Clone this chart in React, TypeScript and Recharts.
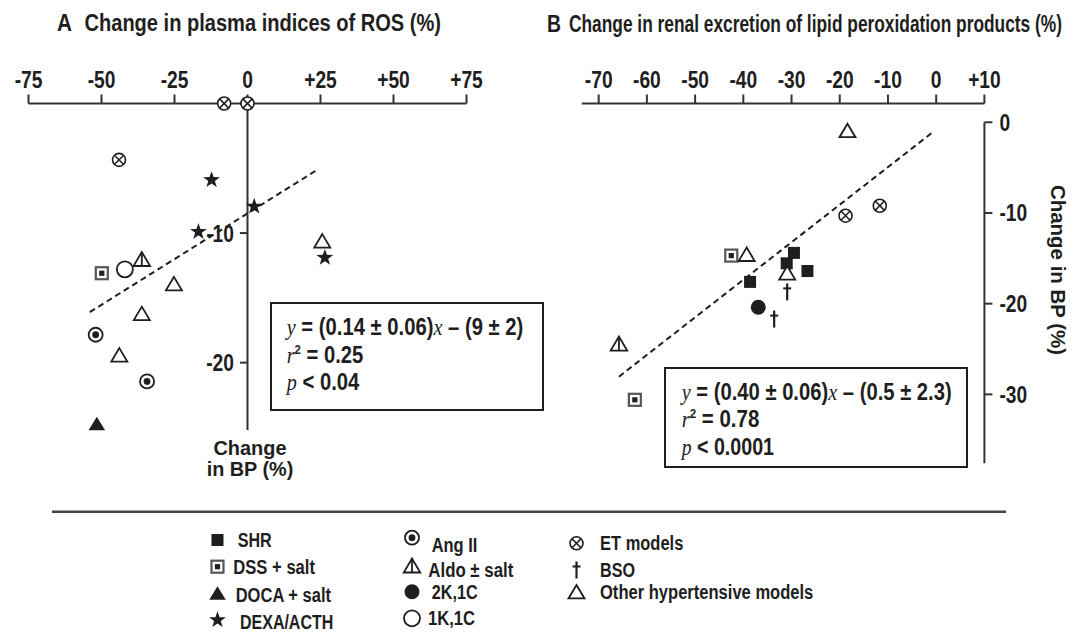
import React from 'react';
import { ScatterChart, Scatter, XAxis, YAxis, ReferenceLine } from 'recharts';

const FONT = "'Liberation Sans',Arial,Helvetica,sans-serif";
const SERIF = "'Liberation Serif','Times New Roman',serif";
const INK = '#1e1e1e';
const LINE = '#333333';
const SQUEEZE = 0.8;

// ---------- Panel A : plasma indices of ROS vs change in BP ----------
const aTicksX = [-75, -50, -25, 0, 25, 50, 75];
const aTicksY = [-10, -20];
const aET = [{ x: -44, y: -4.35 }, { x: -8, y: 0 }, { x: 0, y: 0 }];
const aDEXA = [{ x: -12.3, y: -5.9 }, { x: 2.3, y: -7.95 }, { x: -16.8, y: -9.9 }, { x: 26.5, y: -11.9 }];
const aOther = [{ x: 25.6, y: -10.6 }, { x: -25.2, y: -13.9 }, { x: -36.2, y: -16.2 }, { x: -43.9, y: -19.4 }];
const aDSS = [{ x: -49.9, y: -13.1 }];
const aK1 = [{ x: -42, y: -12.8 }];
const aAldo = [{ x: -36.2, y: -12.0 }];
const aAng = [{ x: -52, y: -17.85 }, { x: -34.4, y: -21.45 }];
const aDOCA = [{ x: -51.6, y: -24.7 }];
const aFit = [{ x: -54, y: -16.1 }, { x: 24, y: -5.1 }];

// ---------- Panel B : renal lipid peroxidation vs change in BP ----------
const bTicksX = [-70, -60, -50, -40, -30, -20, -10, 0, 10];
const bTicksY = [0, -10, -20, -30];
const bOther = [{ x: -18.4, y: -0.9 }, { x: -39.3, y: -14.55 }, { x: -30.9, y: -16.6 }];
const bET = [{ x: -18.8, y: -10.3 }, { x: -11.7, y: -9.2 }];
const bDSS = [{ x: -42.5, y: -14.7 }, { x: -62.5, y: -30.6 }];
const bSHR = [{ x: -29.5, y: -14.4 }, { x: -31.0, y: -15.55 }, { x: -26.7, y: -16.4 }, { x: -38.6, y: -17.6 }];
const bK2 = [{ x: -36.9, y: -20.4 }];
const bBSO = [{ x: -30.9, y: -18.7 }, { x: -33.6, y: -21.7 }];
const bAldo = [{ x: -65.8, y: -24.4 }];
const bFit = [{ x: -65.8, y: -28.05 }, { x: -0.6, y: -1.05 }];

const legendCol1 = [
  { kind: 'shr', label: 'SHR' },
  { kind: 'dss', label: 'DSS + salt' },
  { kind: 'doca', label: 'DOCA + salt' },
  { kind: 'star', label: 'DEXA/ACTH' },
];
const legendCol2 = [
  { kind: 'ang', label: 'Ang II' },
  { kind: 'aldo', label: 'Aldo ± salt' },
  { kind: 'k2', label: '2K,1C' },
  { kind: 'k1', label: '1K,1C' },
];
const legendCol3 = [
  { kind: 'et', label: 'ET models' },
  { kind: 'bso', label: 'BSO' },
  { kind: 'other', label: 'Other hypertensive models' },
];

function starPath(cx: number, cy: number, R: number, r: number) {
  let d = '';
  for (let i = 0; i < 10; i++) {
    const ang = -Math.PI / 2 + (i * Math.PI) / 5;
    const rad = i % 2 === 0 ? R : r;
    d += (i ? 'L' : 'M') + (cx + rad * Math.cos(ang)).toFixed(2) + ',' + (cy + rad * Math.sin(ang)).toFixed(2);
  }
  return d + 'Z';
}

function tri(cx: number, cy: number, w: number, h: number) {
  return `${cx},${cy - h / 2} ${cx + w / 2},${cy + h / 2} ${cx - w / 2},${cy + h / 2}`;
}

function Marker({ kind, cx, cy }: { kind: string; cx: number; cy: number }) {
  if (cx == null || cy == null) return null;
  switch (kind) {
    case 'shr':
      return <rect x={cx - 6} y={cy - 6} width={12} height={12} fill={INK} />;
    case 'dss':
      return (
        <g>
          <rect x={cx - 6} y={cy - 6} width={12} height={12} fill="#fff" stroke="#555" strokeWidth={2.2} />
          <rect x={cx - 2.6} y={cy - 2.6} width={5.2} height={5.2} fill={INK} />
        </g>
      );
    case 'doca':
      return <polygon points={tri(cx, cy, 16.5, 13.5)} fill={INK} />;
    case 'star':
      return <path d={starPath(cx, cy, 8.8, 3.5)} fill={INK} />;
    case 'ang':
      return (
        <g>
          <circle cx={cx} cy={cy} r={7} fill="#fff" stroke={INK} strokeWidth={1.8} />
          <circle cx={cx} cy={cy} r={3.4} fill={INK} />
        </g>
      );
    case 'aldo':
      return (
        <g>
          <polygon points={tri(cx, cy, 16.5, 14)} fill="#fff" stroke={INK} strokeWidth={1.8} />
          <line x1={cx} y1={cy - 7} x2={cx} y2={cy + 7} stroke={INK} strokeWidth={1.8} />
        </g>
      );
    case 'k2':
      return <circle cx={cx} cy={cy} r={7.5} fill={INK} />;
    case 'k1':
      return <circle cx={cx} cy={cy} r={8} fill="#fff" stroke={INK} strokeWidth={1.8} />;
    case 'et':
      return (
        <g>
          <circle cx={cx} cy={cy} r={6.5} fill="#fff" stroke={INK} strokeWidth={1.6} />
          <line x1={cx - 4.4} y1={cy - 4.4} x2={cx + 4.4} y2={cy + 4.4} stroke={INK} strokeWidth={1.5} />
          <line x1={cx - 4.4} y1={cy + 4.4} x2={cx + 4.4} y2={cy - 4.4} stroke={INK} strokeWidth={1.5} />
        </g>
      );
    case 'bso':
      return (
        <g>
          <line x1={cx} y1={cy - 8.5} x2={cx} y2={cy + 8.5} stroke={INK} strokeWidth={2.2} />
          <line x1={cx - 4} y1={cy - 3.5} x2={cx + 4} y2={cy - 3.5} stroke={INK} strokeWidth={2} />
        </g>
      );
    case 'other':
    default:
      return <polygon points={tri(cx, cy, 16, 13.5)} fill="#fff" stroke={INK} strokeWidth={1.8} />;
  }
}

const shapeOf = (kind: string) => (p: any) => <Marker kind={kind} cx={p.cx} cy={p.cy} />;

const fmtX = (v: number) => (v > 0 ? `+${v}` : `${v}`);

// condensed bold text used for axis tick labels
function Narrow({ x, y, anchor, dy, size, children }: any) {
  return (
    <text
      transform={`translate(${x},${y}) scale(${SQUEEZE},1)`}
      textAnchor={anchor}
      dy={dy}
      fill={INK}
      fontFamily={FONT}
      fontWeight={700}
      fontSize={size}
    >
      {children}
    </text>
  );
}

const dyFor = (va: string) => (va === 'start' ? '0.71em' : va === 'middle' ? '0.355em' : 0);

const xTick = (p: any) => (
  <Narrow x={p.x} y={p.y} anchor={p.textAnchor} dy={dyFor(p.verticalAnchor)} size={24}>
    {fmtX(p.payload.value)}
  </Narrow>
);
const yTick = (p: any) => (
  <Narrow x={p.x} y={p.y} anchor={p.textAnchor} dy={dyFor(p.verticalAnchor)} size={24}>
    {`${p.payload.value}`}
  </Narrow>
);

function T(props: any) {
  const { children, ...rest } = props;
  return (
    <text fill={INK} fontFamily={FONT} fontWeight={700} lengthAdjust="spacingAndGlyphs" {...rest}>
      {children}
    </text>
  );
}

function Legend() {
  const col = (items: any[], mx: number, lx: number[], my: number[], by: number[], widths: number[]) =>
    items.map((it, i) => (
      <g key={it.label}>
        <Marker kind={it.kind} cx={mx} cy={my[i]} />
        <T x={lx[i]} y={by[i]} fontSize={19.5} textLength={widths[i]}>
          {it.label}
        </T>
      </g>
    ));
  return (
    <g>
      <line x1={52} y1={511.7} x2={1006} y2={511.7} stroke="#444" strokeWidth={2.6} />
      {col(legendCol1, 217.5, [237.7, 233.3, 235.7, 240], [540, 566.7, 593, 620], [547, 574, 602, 629], [34, 81.7, 95.3, 93.3])}
      {col(legendCol2, 412, [431.7, 428.3, 431.7, 428], [537.7, 565.5, 591.7, 618.3], [551.5, 576.5, 598.5, 625], [45.7, 85, 46, 47])}
      {col(legendCol3, 576.5, [600, 600, 600], [543.3, 570, 591.7], [550, 576.5, 599], [83.3, 35, 213.3])}
    </g>
  );
}

function Overlay() {
  return (
    <svg width={1073} height={635} style={{ position: 'absolute', left: 0, top: 0, pointerEvents: 'none' }}>
      {/* titles */}
      <T x={57} y={31} fontSize={23.5} textLength={15}>A</T>
      <T x={84.5} y={31} fontSize={23.5} textLength={356.5}>Change in plasma indices of ROS (%)</T>
      <T x={547} y={32} fontSize={23.5} textLength={14}>B</T>
      <T x={569} y={32} fontSize={23.5} textLength={493}>Change in renal excretion of lipid peroxidation products (%)</T>

      {/* panel A y label */}
      <T x={250} y={455} fontSize={19.5} textAnchor="middle" textLength={73}>Change</T>
      <T x={250} y={475.5} fontSize={19.5} textAnchor="middle" textLength={86.7}>in BP (%)</T>

      {/* panel B y label */}
      <T x={1051} y={270} fontSize={21} textAnchor="middle" transform="rotate(90 1051 270)" textLength={170}>
        Change in BP (%)
      </T>

      {/* Box A */}
      <rect x={271} y={303} width={272} height={107} fill="none" stroke={INK} strokeWidth={2} />
      <T x={286.7} y={335} fontSize={23} textLength={236.6}>
        <tspan fontFamily={SERIF} fontStyle="italic" fontWeight={400}>y</tspan>
        <tspan> = (0.14 ± 0.06)</tspan>
        <tspan fontFamily={SERIF} fontStyle="italic" fontWeight={400}>x</tspan>
        <tspan> – (9 ± 2)</tspan>
      </T>
      <T x={286.7} y={363} fontSize={23} textLength={76.6}>
        <tspan fontFamily={SERIF} fontStyle="italic" fontWeight={400}>r</tspan>
        <tspan fontSize={13} dy={-9}>2</tspan>
        <tspan dy={9}> = 0.25</tspan>
      </T>
      <T x={286.7} y={390} fontSize={23} textLength={72.6}>
        <tspan fontFamily={SERIF} fontStyle="italic" fontWeight={400}>p</tspan>
        <tspan> &lt; 0.04</tspan>
      </T>

      {/* Box B */}
      <rect x={665} y={368} width={302} height={99} fill="none" stroke={INK} strokeWidth={2} />
      <T x={681.7} y={400} fontSize={23} textLength={270}>
        <tspan fontFamily={SERIF} fontStyle="italic" fontWeight={400}>y</tspan>
        <tspan> = (0.40 ± 0.06)</tspan>
        <tspan fontFamily={SERIF} fontStyle="italic" fontWeight={400}>x</tspan>
        <tspan> – (0.5 ± 2.3)</tspan>
      </T>
      <T x={681.7} y={427} fontSize={23} textLength={77.6}>
        <tspan fontFamily={SERIF} fontStyle="italic" fontWeight={400}>r</tspan>
        <tspan fontSize={13} dy={-9}>2</tspan>
        <tspan dy={9}> = 0.78</tspan>
      </T>
      <T x={681.7} y={455} fontSize={23} textLength={92.3}>
        <tspan fontFamily={SERIF} fontStyle="italic" fontWeight={400}>p</tspan>
        <tspan> &lt; 0.0001</tspan>
      </T>

      <Legend />
    </svg>
  );
}

const axisStroke = { stroke: LINE, strokeWidth: 2 };

const yTickLabelA = (t: number) => (p: any) => {
  const vb = p.viewBox || {};
  return (
    <Narrow x={(vb.x ?? 0) - 6} y={vb.y ?? 0} anchor="end" dy="0.355em" size={24}>
      {`${t}`}
    </Narrow>
  );
};

export default function App() {
  return (
    <div style={{ position: 'absolute', left: 0, top: 0, width: 1073, height: 635, background: '#fff', overflow: 'hidden' }}>
      <div style={{ position: 'absolute', left: 0, top: 0 }}>
        <ScatterChart width={540} height={635} margin={{ top: 73.5, left: 28.5, right: 73.5, bottom: 205 }}>
          <XAxis
            orientation="top"
            height={30}
            type="number"
            dataKey="x"
            domain={[-75, 75]}
            ticks={aTicksX}
            axisLine={axisStroke}
            tickLine={axisStroke}
            tickSize={9}
            tickMargin={7}
            tick={xTick}
            interval={0}
          />
          <YAxis hide type="number" dataKey="y" domain={[-25.2, 0]} />
          <ReferenceLine segment={[{ x: 0, y: 0 }, { x: 0, y: -25.2 }]} stroke={LINE} strokeWidth={2} />
          {aTicksY.map((t) => (
            <ReferenceLine
              key={t}
              segment={[{ x: -2.6, y: t }, { x: 0, y: t }]}
              stroke={LINE}
              strokeWidth={2}
              label={yTickLabelA(t)}
            />
          ))}
          <ReferenceLine segment={aFit} stroke={INK} strokeWidth={2} strokeDasharray="6 4" />
          <Scatter data={aET} shape={shapeOf('et')} isAnimationActive={false} />
          <Scatter data={aOther} shape={shapeOf('other')} isAnimationActive={false} />
          <Scatter data={aDEXA} shape={shapeOf('star')} isAnimationActive={false} />
          <Scatter data={aDSS} shape={shapeOf('dss')} isAnimationActive={false} />
          <Scatter data={aK1} shape={shapeOf('k1')} isAnimationActive={false} />
          <Scatter data={aAldo} shape={shapeOf('aldo')} isAnimationActive={false} />
          <Scatter data={aAng} shape={shapeOf('ang')} isAnimationActive={false} />
          <Scatter data={aDOCA} shape={shapeOf('doca')} isAnimationActive={false} />
        </ScatterChart>
      </div>
      <div style={{ position: 'absolute', left: 540, top: 0 }}>
        <ScatterChart width={533} height={635} margin={{ top: 73.5, left: 41.8, right: 28.6, bottom: 171.7 }}>
          <XAxis
            orientation="top"
            height={30}
            type="number"
            dataKey="x"
            domain={[-73.5, 10]}
            ticks={bTicksX}
            axisLine={axisStroke}
            tickLine={axisStroke}
            tickSize={9}
            tickMargin={7}
            tick={xTick}
            interval={0}
          />
          <YAxis
            orientation="right"
            width={60}
            type="number"
            dataKey="y"
            domain={[-37.6, 2.07]}
            ticks={bTicksY}
            axisLine={false}
            tickLine={axisStroke}
            tickSize={8}
            tickMargin={7}
            tick={yTick}
            interval={0}
          />
          <ReferenceLine segment={[{ x: 10, y: 0 }, { x: 10, y: -37.6 }]} stroke={LINE} strokeWidth={2} />
          <ReferenceLine segment={bFit} stroke={INK} strokeWidth={2} strokeDasharray="6 4" />
          <Scatter data={bET} shape={shapeOf('et')} isAnimationActive={false} />
          <Scatter data={bDSS} shape={shapeOf('dss')} isAnimationActive={false} />
          <Scatter data={bSHR} shape={shapeOf('shr')} isAnimationActive={false} />
          <Scatter data={bOther} shape={shapeOf('other')} isAnimationActive={false} />
          <Scatter data={bK2} shape={shapeOf('k2')} isAnimationActive={false} />
          <Scatter data={bBSO} shape={shapeOf('bso')} isAnimationActive={false} />
          <Scatter data={bAldo} shape={shapeOf('aldo')} isAnimationActive={false} />
        </ScatterChart>
      </div>
      <Overlay />
    </div>
  );
}
